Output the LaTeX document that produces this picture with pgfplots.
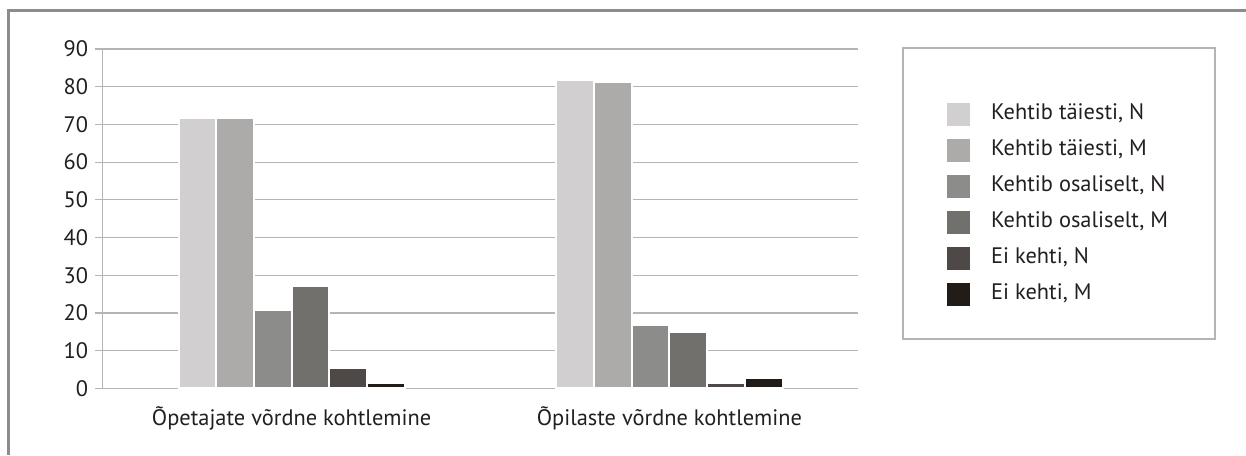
\documentclass[border=0pt]{standalone}
\usepackage{fontspec}
\setmainfont{PT Sans}
\usepackage{pgfplots}
\pgfplotsset{compat=1.18}

\definecolor{txt}{HTML}{231F20}
\definecolor{frame}{HTML}{8C8C8C}
\definecolor{gridc}{HTML}{B4B4B4}
\definecolor{cA}{HTML}{D1CFD0}
\definecolor{cB}{HTML}{ACABA9}
\definecolor{cC}{HTML}{8C8C8A}
\definecolor{cD}{HTML}{72706D}
\definecolor{cE}{HTML}{4E4946}
\definecolor{cF}{HTML}{221C19}

\begin{document}
\begin{tikzpicture}[font=\fontsize{11.2bp}{13bp}\selectfont, x=1bp, y=1bp]
\useasboundingbox (0,0) rectangle (623,227.5);
% outer frame (cut at right and bottom like the source)
\draw[frame, line width=1.1bp] (4.25,0) -- (4.25,222.25) -- (623,222.25);
% legend box
\draw[gridc, line width=0.7bp] (451.5,58) rectangle (607.5,203.5);

\begin{axis}[
    at={(51.35bp,33.35bp)}, anchor=south west,
    scale only axis,
    width=377.8bp, height=169.65bp,
    ybar=0pt, bar width=18.85bp,
    xmin=-0.5, xmax=1.5,
    ymin=0, ymax=90,
    ytick={0,10,...,90},
    xtick={0,1},
    xticklabels={Õpetajate võrdne kohtlemine, Õpilaste võrdne kohtlemine},
    xtick style={draw=none},
    xticklabel style={yshift=-2bp},
    extra x ticks={-0.5,0.5,1.5},
    extra x tick labels={},
    extra x tick style={grid=none, major tick length=3.5bp,
        tick style={draw=gridc, line width=0.6bp}},
    axis x line*=bottom, axis y line*=left,
    axis line style={draw=gridc, line width=0.6bp, -},
    ymajorgrids,
    grid style={draw=gridc, line width=0.6bp},
    tick align=outside,
    major tick length=3.85bp,
    ytick style={draw=gridc, line width=0.6bp},
    tick label style={font=\fontsize{11.2bp}{13bp}\selectfont, text=txt},
    /pgf/number format/assume math mode=true,
    legend style={
        at={(1.1174,0.843)}, anchor=north west,
        draw=none, fill=none, inner sep=0pt,
        font=\fontsize{11.2bp}{13bp}\selectfont, text=txt,
        row sep=6.5bp,
        nodes={inner sep=0pt, text height=8bp, text depth=3bp},
        /tikz/every odd column/.append style={column sep=10.35bp},
    },
    legend cell align=left,
    legend image code/.code={\fill[#1, draw=none] (0bp,-5.75bp) rectangle (11.5bp,5.75bp);},
    every axis plot/.append style={draw=white, line width=1bp},
]
\addplot[fill=cA] coordinates {(0,71.6) (1,81.8)};
\addlegendentry{Kehtib täiesti, N}
\addplot[fill=cB] coordinates {(0,71.6) (1,81.2)};
\addlegendentry{Kehtib täiesti, M}
\addplot[fill=cC] coordinates {(0,20.8) (1,16.8)};
\addlegendentry{Kehtib osaliselt, N}
\addplot[fill=cD] coordinates {(0,27.1) (1,14.9)};
\addlegendentry{Kehtib osaliselt, M}
\addplot[fill=cE] coordinates {(0,5.4) (1,1.5)};
\addlegendentry{Ei kehti, N}
\addplot[fill=cF] coordinates {(0,1.5) (1,2.8)};
\addlegendentry{Ei kehti, M}
\end{axis}
\end{tikzpicture}
\end{document}
